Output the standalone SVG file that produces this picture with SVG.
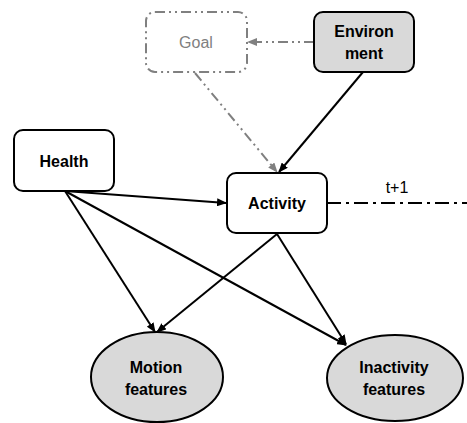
<svg xmlns="http://www.w3.org/2000/svg" width="467" height="423" viewBox="0 0 467 423">
<style>
.box{fill:#fff;stroke:#000;stroke-width:2}
.grey{fill:#d9d9d9;stroke:#000;stroke-width:2}
.lbl{font-family:"Liberation Sans",Arial,sans-serif;font-weight:bold;font-size:16px;fill:#000;text-anchor:middle}
.e{stroke:#000;stroke-width:2;fill:none}
.g{stroke:#808080;stroke-width:2;fill:none;stroke-dasharray:10 4 2 4 2 4}
</style>
<defs>
<marker id="ab" markerWidth="10" markerHeight="8" refX="9" refY="4" orient="auto" markerUnits="userSpaceOnUse"><path d="M0,0 L10,4 L0,8 z" fill="#000"/></marker>
<marker id="ag" markerWidth="10" markerHeight="8" refX="9" refY="4" orient="auto" markerUnits="userSpaceOnUse"><path d="M0,0 L10,4 L0,8 z" fill="#808080"/></marker>
</defs>
<g id="connectors">
<line class="g" x1="314" y1="42" x2="248" y2="42" marker-end="url(#ag)"/>
<line class="g" x1="195" y1="73" x2="277" y2="172" marker-end="url(#ag)"/>
<line class="e" x1="363" y1="72" x2="279" y2="172" marker-end="url(#ab)"/>
<line class="e" x1="65" y1="191" x2="226" y2="203" marker-end="url(#ab)"/>
<line class="e" x1="65" y1="191" x2="155" y2="332" marker-end="url(#ab)"/>
<line class="e" x1="65" y1="191" x2="346" y2="345" marker-end="url(#ab)"/>
<line class="e" x1="277" y1="234" x2="157" y2="332" marker-end="url(#ab)"/>
<line class="e" x1="277" y1="234" x2="346" y2="344" marker-end="url(#ab)"/>
<line class="e" x1="327" y1="203" x2="467" y2="203" stroke-dasharray="14 5 3 5"/>
<text x="397" y="193" font-family="Liberation Sans,Arial,sans-serif" font-size="16" text-anchor="middle" fill="#000">t+1</text>
</g>
<g id="goal">
<rect x="146" y="12" width="101" height="60" rx="9" fill="#fff" class="g"/>
<text x="196" y="48" font-family="Liberation Sans,Arial,sans-serif" font-size="16" text-anchor="middle" fill="#808080">Goal</text>
</g>
<g id="environment">
<rect class="grey" x="314" y="12" width="100" height="60" rx="9"/>
<text class="lbl" x="364" y="37">Environ</text>
<text class="lbl" x="364" y="59">ment</text>
</g>
<g id="health">
<rect class="box" x="14" y="130" width="100" height="61" rx="9"/>
<text class="lbl" x="64" y="167">Health</text>
</g>
<g id="activity">
<rect class="box" x="227" y="173" width="100" height="60" rx="9"/>
<text class="lbl" x="277" y="209">Activity</text>
</g>
<g id="motion">
<ellipse class="grey" cx="157" cy="377" rx="66" ry="45"/>
<text class="lbl" x="156" y="373">Motion</text>
<text class="lbl" x="156" y="395">features</text>
</g>
<g id="inactivity">
<ellipse class="grey" cx="395" cy="378" rx="68" ry="43"/>
<text class="lbl" x="394" y="373">Inactivity</text>
<text class="lbl" x="394" y="395">features</text>
</g>
</svg>
